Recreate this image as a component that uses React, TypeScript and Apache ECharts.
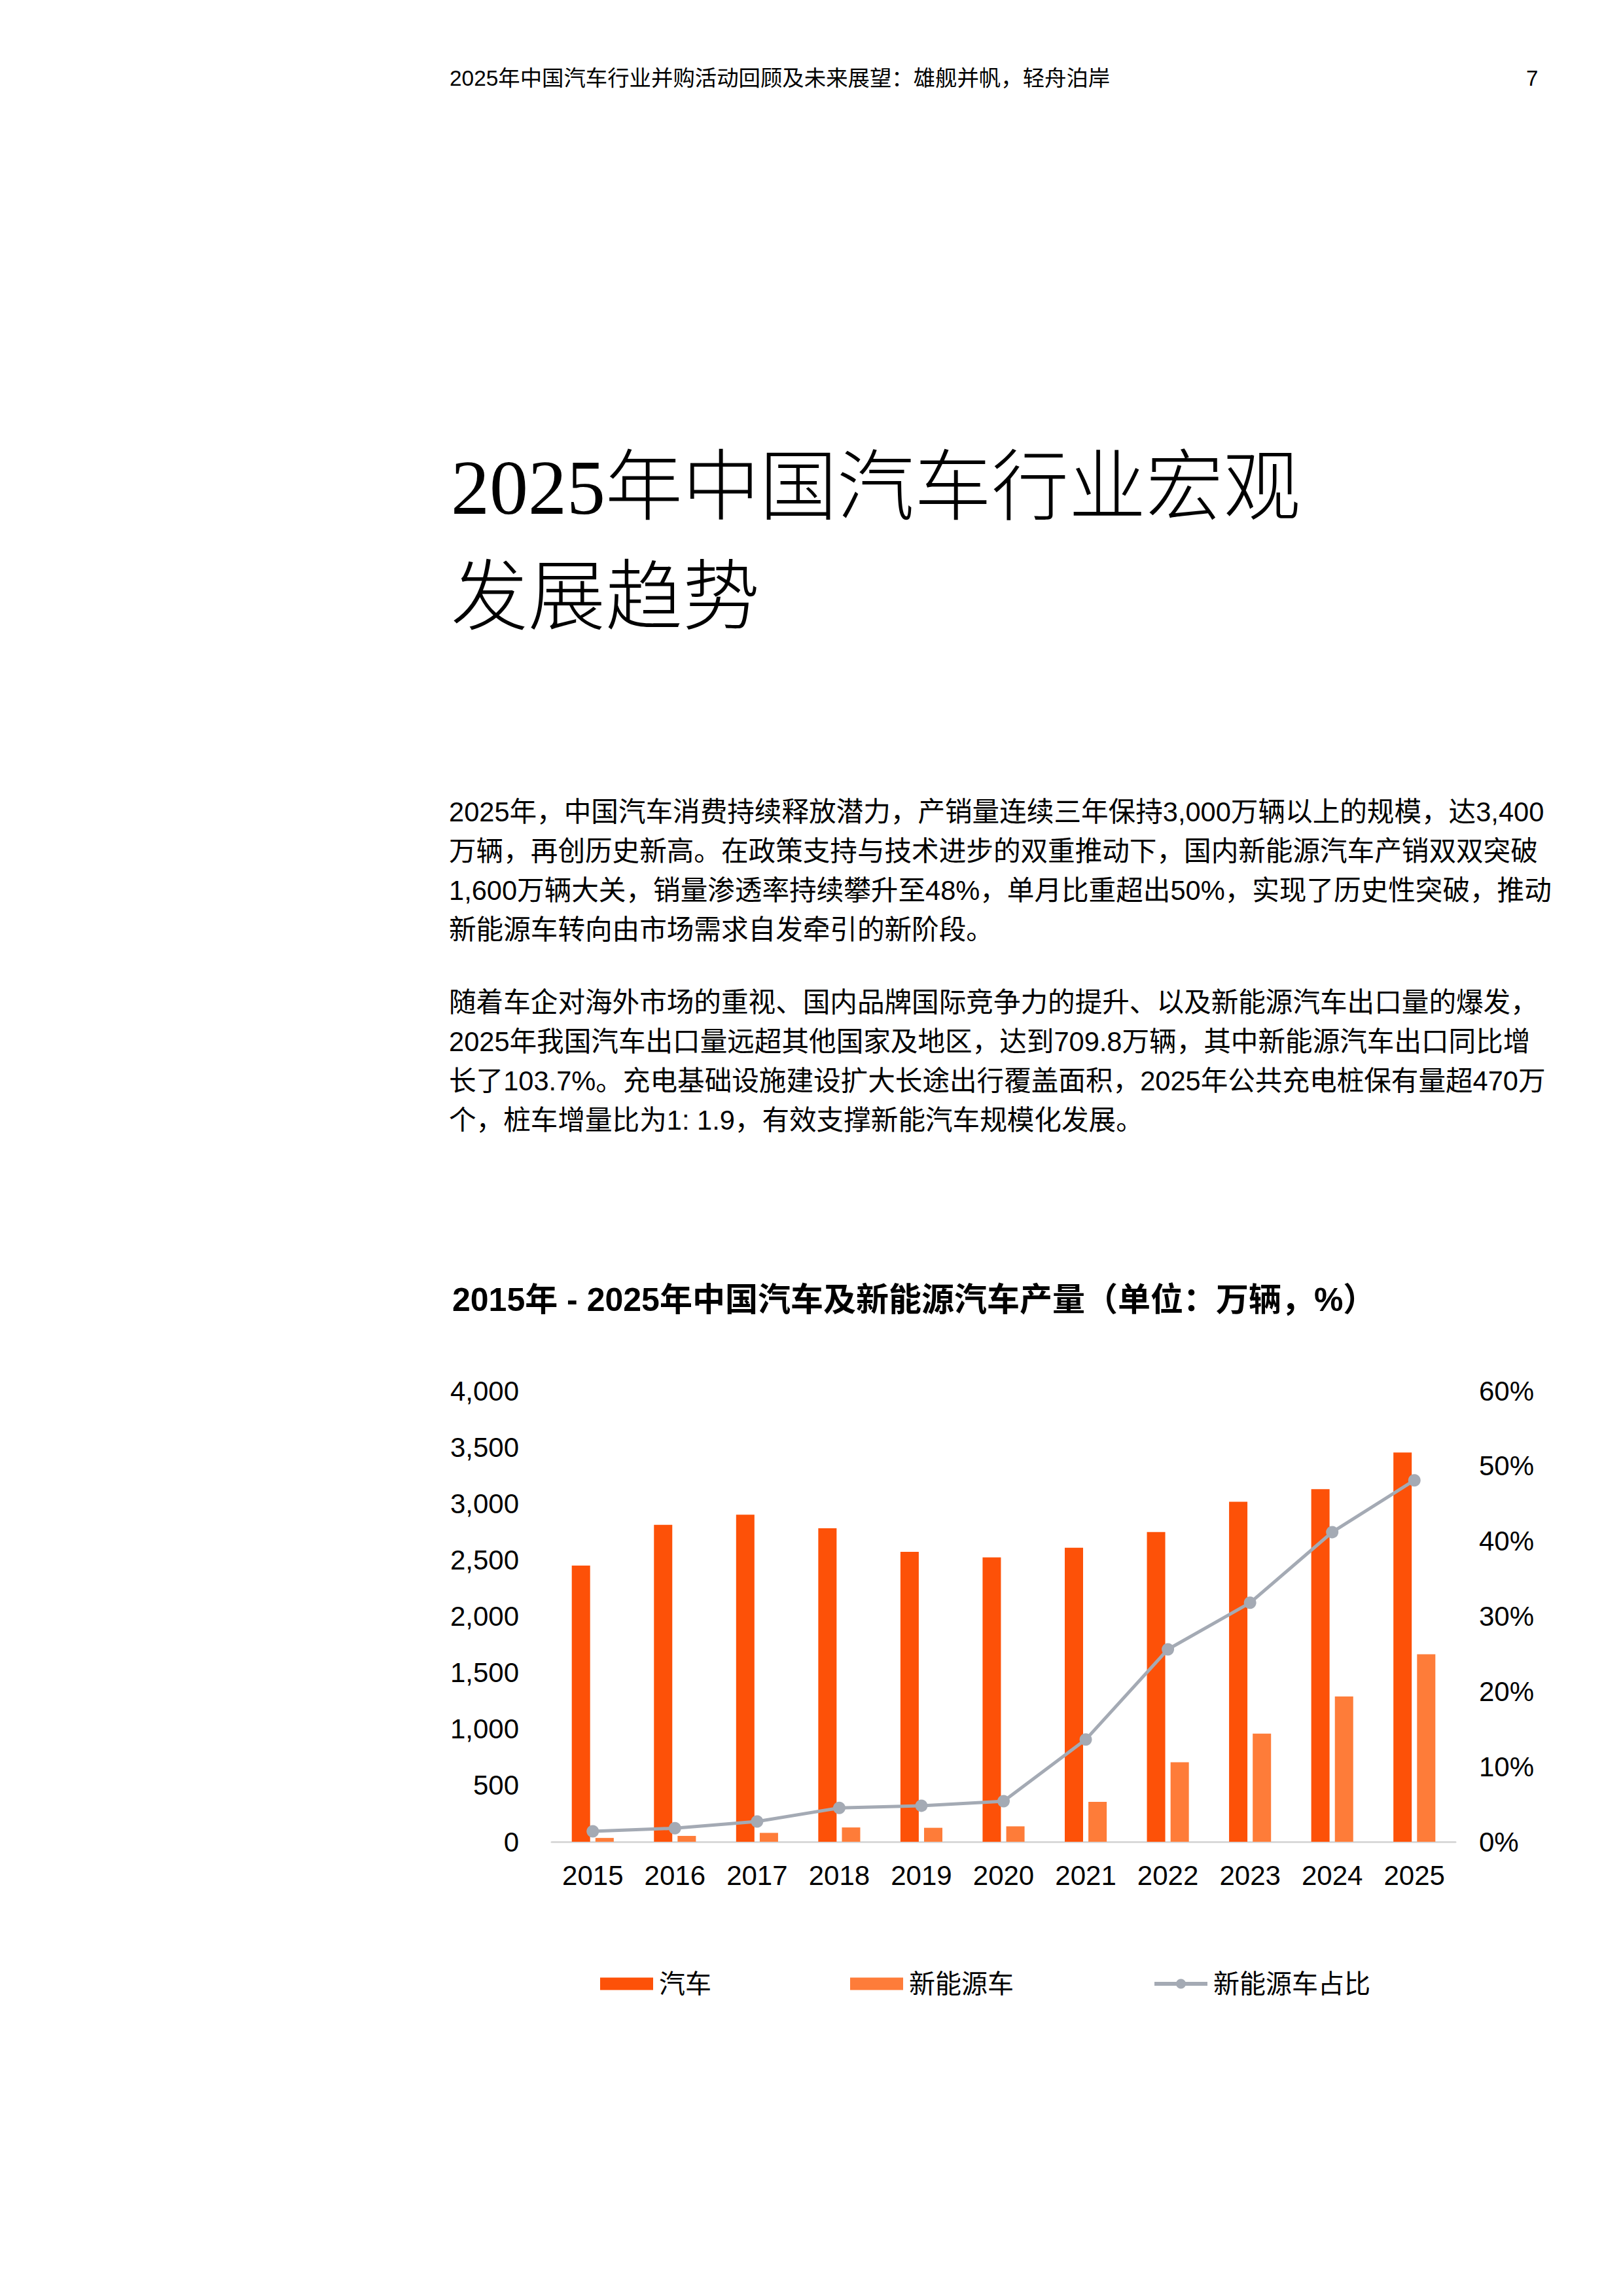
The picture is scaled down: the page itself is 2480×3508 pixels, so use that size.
import React, { useEffect, useRef } from 'react';
import * as echarts from 'echarts';

const years = ['2015', '2016', '2017', '2018', '2019', '2020', '2021', '2022', '2023', '2024', '2025'];
// 汽车产量（万辆）
const carOutput = [2450, 2812, 2902, 2781, 2572, 2523, 2608, 2748, 3016, 3128, 3453];
// 新能源车产量（万辆）
const nevOutput = [34, 52, 79, 127, 124, 137, 354, 706, 959, 1289, 1663];
// 新能源车占比（%）
const nevShare = [1.4, 1.8, 2.7, 4.5, 4.8, 5.4, 13.6, 25.6, 31.8, 41.2, 48.1];

const headerText = '2025年中国汽车行业并购活动回顾及未来展望：雄舰并帆，轻舟泊岸';
const pageNo = '7';
const titleLines = ['2025年中国汽车行业宏观', '发展趋势'];
const para1 = [
  '2025年，中国汽车消费持续释放潜力，产销量连续三年保持3,000万辆以上的规模，达3,400',
  '万辆，再创历史新高。在政策支持与技术进步的双重推动下，国内新能源汽车产销双双突破',
  '1,600万辆大关，销量渗透率持续攀升至48%，单月比重超出50%，实现了历史性突破，推动',
  '新能源车转向由市场需求自发牵引的新阶段。',
];
const para2 = [
  '随着车企对海外市场的重视、国内品牌国际竞争力的提升、以及新能源汽车出口量的爆发，',
  '2025年我国汽车出口量远超其他国家及地区，达到709.8万辆，其中新能源汽车出口同比增',
  '长了103.7%。充电基础设施建设扩大长途出行覆盖面积，2025年公共充电桩保有量超470万',
  '个，桩车增量比为1: 1.9，有效支撑新能汽车规模化发展。',
];
const chartTitle = '2015年 - 2025年中国汽车及新能源汽车产量（单位：万辆，%）';

const SANS = '"Liberation Sans", Arial, "Noto Sans CJK SC", sans-serif';
const SERIF = '"Liberation Serif", "Noto Sans CJK SC", serif';

function TrendChart() {
  const chartRef = useRef<HTMLDivElement>(null);

  useEffect(() => {
    if (!chartRef.current) return;
    const myChart = echarts.init(chartRef.current, undefined, { renderer: 'svg' });

    const axisText = { color: '#000', fontSize: 42, fontFamily: SANS };
    const lineGray = '#A4AAB4';

    const option = {
      animation: false,
      title: {
        text: chartTitle,
        left: 686,
        top: 56,
        textStyle: { fontSize: 50, fontWeight: 'bold', color: '#000', fontFamily: SANS },
      },
      legend: {
        left: 912,
        top: 1106,
        itemWidth: 81,
        itemHeight: 19,
        itemGap: 212,
        textStyle: { fontSize: 40, color: '#000', fontFamily: SANS, padding: [0, 0, 0, 4] },
        data: [
          { name: '汽车', icon: 'rect' },
          { name: '新能源车', icon: 'rect' },
          {
            name: '新能源车占比',
            lineStyle: { color: lineGray, width: 6 },
            itemStyle: { color: lineGray },
          },
        ],
      },
      grid: { left: 843, top: 225, width: 1381, height: 689 },
      xAxis: {
        type: 'category',
        data: years,
        axisLine: { lineStyle: { color: '#D9D9D9', width: 3 } },
        axisTick: { show: false },
        axisLabel: { ...axisText, margin: 30 },
      },
      yAxis: [
        {
          type: 'value',
          min: 0,
          max: 4000,
          interval: 500,
          splitLine: { show: false },
          axisLine: { show: false },
          axisTick: { show: false },
          axisLabel: {
            ...axisText,
            margin: 50,
            formatter: (v: number) => v.toLocaleString('en-US'),
          },
        },
        {
          type: 'value',
          min: 0,
          max: 60,
          interval: 10,
          splitLine: { show: false },
          axisLine: { show: false },
          axisTick: { show: false },
          axisLabel: { ...axisText, margin: 36, formatter: '{value}%' },
        },
      ],
      series: [
        {
          name: '汽车',
          type: 'bar',
          data: carOutput,
          barWidth: 28,
          barGap: '29%',
          itemStyle: { color: '#FD5108' },
        },
        {
          name: '新能源车',
          type: 'bar',
          data: nevOutput,
          barWidth: 28,
          itemStyle: { color: '#FE7C39' },
        },
        {
          name: '新能源车占比',
          type: 'line',
          yAxisIndex: 1,
          data: nevShare,
          symbol: 'circle',
          symbolSize: 19,
          lineStyle: { color: lineGray, width: 5 },
          itemStyle: { color: lineGray },
        },
      ],
    };

    myChart.setOption(option);
    return () => {
      myChart.dispose();
    };
  }, []);

  return (
    <div
      ref={chartRef}
      style={{ position: 'absolute', left: 0, top: 1900, width: 2480, height: 1300 }}
    />
  );
}

export default function App() {
  const lineStyle: React.CSSProperties = {
    position: 'absolute',
    left: 686,
    fontFamily: SANS,
    fontSize: 41.6,
    lineHeight: '60px',
    color: '#000',
    whiteSpace: 'nowrap',
  };

  return (
    <div
      style={{
        position: 'absolute',
        left: 0,
        top: 0,
        width: 2480,
        height: 3508,
        background: '#fff',
        overflow: 'hidden',
      }}
    >
      <div
        style={{
          position: 'absolute',
          left: 687,
          top: 96,
          fontFamily: SANS,
          fontSize: 33.4,
          lineHeight: '48px',
          color: '#000',
          whiteSpace: 'nowrap',
        }}
      >
        {headerText}
      </div>
      <div
        style={{
          position: 'absolute',
          left: 2332,
          top: 96,
          fontFamily: SANS,
          fontSize: 33,
          lineHeight: '48px',
          color: '#000',
        }}
      >
        {pageNo}
      </div>

      {titleLines.map((t, i) => (
        <div
          key={t}
          style={{
            position: 'absolute',
            left: 689,
            top: 662 + i * 168,
            fontFamily: SERIF,
            fontSize: 118,
            fontWeight: 300,
            lineHeight: '168px',
            color: '#000',
            whiteSpace: 'nowrap',
          }}
        >
          {t}
        </div>
      ))}

      {para1.map((t, i) => (
        <div key={'p1' + i} style={{ ...lineStyle, top: 1211 + i * 60 }}>
          {t}
        </div>
      ))}
      {para2.map((t, i) => (
        <div key={'p2' + i} style={{ ...lineStyle, top: 1502 + i * 60 }}>
          {t}
        </div>
      ))}

      <TrendChart />
    </div>
  );
}
